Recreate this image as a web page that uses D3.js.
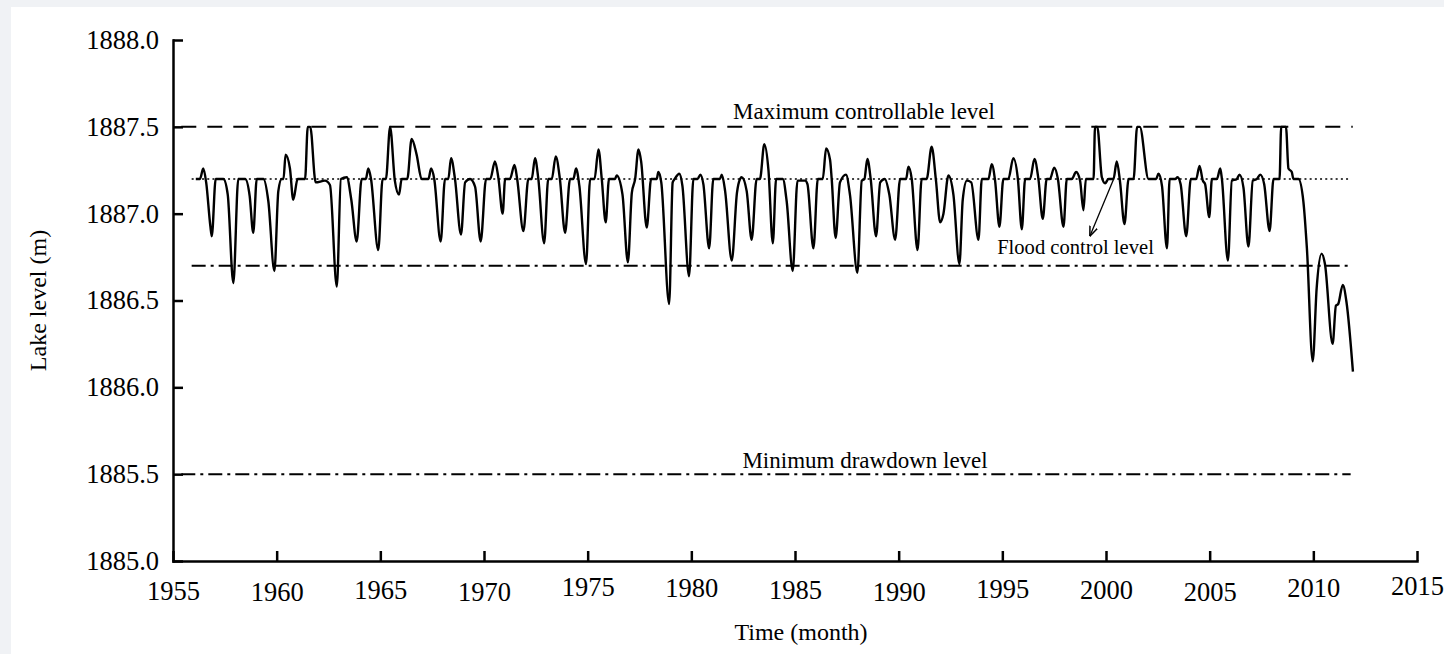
<!DOCTYPE html>
<html>
<head>
<meta charset="utf-8">
<title>Lake level</title>
<style>
body { margin: 0; background: #f0f2f5; }
svg { display: block; }
text { font-family: "Liberation Serif", "Times New Roman", serif; fill: #000; }
.axis path, .axis line { stroke: #000; stroke-width: 2.5px; }
.axis text { font-size: 26.5px; }
.series { fill: none; stroke: #000; stroke-width: 2.4px; stroke-linejoin: round; }
.ref { fill: none; stroke: #000; }
</style>
<script src="https://cdn.jsdelivr.net/npm/d3@7/dist/d3.min.js"></script>
</head>
<body>
<svg width="1444" height="654"></svg>
<script>
// time in decimal years, lake level in m
var timeYears = [
  1956.10, 1956.30, 1956.46, 1956.60, 1956.80, 1956.87, 1957.06, 1957.43, 1957.64, 1957.91,
  1958.15, 1958.48, 1958.70, 1958.87, 1959.04, 1959.36, 1959.60, 1959.89, 1960.08, 1960.24,
  1960.33, 1960.43, 1960.64, 1960.80, 1961.01, 1961.37, 1961.50, 1961.62, 1961.88, 1962.33,
  1962.57, 1962.90, 1963.10, 1963.38, 1963.60, 1963.86, 1964.10, 1964.30, 1964.42, 1964.55,
  1964.90, 1965.11, 1965.27, 1965.47, 1965.70, 1965.90, 1966.03, 1966.30, 1966.51, 1966.75,
  1966.99, 1967.32, 1967.45, 1967.60, 1967.91, 1968.12, 1968.28, 1968.41, 1968.60, 1968.89,
  1969.09, 1969.33, 1969.57, 1969.84, 1970.10, 1970.30, 1970.53, 1970.70, 1970.90, 1971.02,
  1971.25, 1971.47, 1971.60, 1971.90, 1972.14, 1972.30, 1972.46, 1972.62, 1972.90, 1973.10,
  1973.27, 1973.46, 1973.66, 1973.91, 1974.15, 1974.31, 1974.44, 1974.60, 1974.92, 1975.12,
  1975.33, 1975.52, 1975.68, 1975.87, 1976.03, 1976.32, 1976.40, 1976.68, 1976.94, 1977.13,
  1977.29, 1977.45, 1977.58, 1977.85, 1978.06, 1978.33, 1978.41, 1978.55, 1978.93, 1979.10,
  1979.20, 1979.42, 1979.57, 1979.89, 1980.10, 1980.30, 1980.44, 1980.58, 1980.86, 1981.06,
  1981.38, 1981.47, 1981.63, 1981.95, 1982.20, 1982.35, 1982.43, 1982.67, 1982.91, 1983.15,
  1983.31, 1983.52, 1983.72, 1983.93, 1984.09, 1984.41, 1984.60, 1984.89, 1985.12, 1985.49,
  1985.60, 1985.89, 1986.10, 1986.34, 1986.50, 1986.69, 1986.77, 1986.96, 1987.17, 1987.46,
  1987.65, 1988.01, 1988.22, 1988.35, 1988.49, 1988.65, 1988.91, 1989.11, 1989.33, 1989.55,
  1989.83, 1990.07, 1990.36, 1990.47, 1990.63, 1990.91, 1991.11, 1991.35, 1991.59, 1991.80,
  1992.00, 1992.16, 1992.40, 1992.64, 1992.93, 1993.09, 1993.29, 1993.50, 1993.85, 1994.01,
  1994.33, 1994.49, 1994.65, 1994.86, 1995.05, 1995.29, 1995.53, 1995.75, 1995.94, 1996.10,
  1996.34, 1996.55, 1996.74, 1996.95, 1997.14, 1997.30, 1997.50, 1997.68, 1997.95, 1998.11,
  1998.35, 1998.56, 1998.75, 1998.91, 1999.03, 1999.40, 1999.47, 1999.58, 1999.80, 1999.96,
  2000.12, 2000.36, 2000.52, 2000.68, 2000.89, 2001.09, 2001.33, 2001.50, 2001.63, 2002.05,
  2002.42, 2002.53, 2002.70, 2002.94, 2003.07, 2003.35, 2003.45, 2003.60, 2003.87, 2004.09,
  2004.35, 2004.51, 2004.67, 2004.78, 2004.98, 2005.11, 2005.35, 2005.51, 2005.59, 2005.88,
  2006.07, 2006.31, 2006.44, 2006.63, 2006.87, 2007.08, 2007.28, 2007.44, 2007.63, 2007.89,
  2008.08, 2008.37, 2008.45, 2008.68, 2008.80, 2008.96, 2009.04, 2009.28, 2009.52, 2009.69,
  2009.97, 2010.16, 2010.40, 2010.56, 2010.93, 2011.09, 2011.20, 2011.42, 2011.60, 2011.91
];
var lakeLevel = [
  1887.20, 1887.20, 1887.26, 1887.18, 1886.93, 1886.87, 1887.20, 1887.20, 1887.11, 1886.60,
  1887.20, 1887.20, 1887.10, 1886.89, 1887.20, 1887.20, 1887.07, 1886.67, 1887.13, 1887.20,
  1887.20, 1887.34, 1887.26, 1887.08, 1887.20, 1887.20, 1887.50, 1887.50, 1887.18, 1887.19,
  1887.165, 1886.58, 1887.20, 1887.21, 1887.08, 1886.84, 1887.20, 1887.20, 1887.26, 1887.20,
  1886.79, 1887.20, 1887.20, 1887.50, 1887.19, 1887.11, 1887.20, 1887.20, 1887.43, 1887.34,
  1887.20, 1887.20, 1887.26, 1887.20, 1886.84, 1887.20, 1887.20, 1887.32, 1887.20, 1886.88,
  1887.18, 1887.20, 1887.155, 1886.84, 1887.20, 1887.20, 1887.30, 1887.20, 1887.00, 1887.20,
  1887.20, 1887.28, 1887.20, 1886.90, 1887.20, 1887.20, 1887.32, 1887.20, 1886.83, 1887.20,
  1887.20, 1887.33, 1887.20, 1886.89, 1887.20, 1887.20, 1887.26, 1887.16, 1886.71, 1887.20,
  1887.20, 1887.37, 1887.20, 1886.95, 1887.20, 1887.20, 1887.22, 1887.11, 1886.72, 1887.12,
  1887.20, 1887.37, 1887.30, 1886.92, 1887.20, 1887.20, 1887.24, 1887.18, 1886.48, 1887.18,
  1887.20, 1887.23, 1887.16, 1886.64, 1887.20, 1887.20, 1887.225, 1887.17, 1886.80, 1887.20,
  1887.20, 1887.225, 1887.13, 1886.73, 1887.12, 1887.20, 1887.21, 1887.13, 1886.85, 1887.20,
  1887.20, 1887.40, 1887.25, 1886.83, 1887.20, 1887.20, 1887.07, 1886.67, 1887.19, 1887.19,
  1887.17, 1886.80, 1887.20, 1887.20, 1887.375, 1887.31, 1887.20, 1886.86, 1887.18, 1887.225,
  1887.11, 1886.66, 1887.19, 1887.20, 1887.315, 1887.20, 1886.87, 1887.18, 1887.20, 1887.11,
  1886.85, 1887.20, 1887.20, 1887.27, 1887.20, 1886.79, 1887.20, 1887.20, 1887.385, 1887.19,
  1886.95, 1887.00, 1887.22, 1887.11, 1886.71, 1887.08, 1887.19, 1887.18, 1886.85, 1887.20,
  1887.20, 1887.285, 1887.19, 1886.925, 1887.20, 1887.20, 1887.32, 1887.20, 1886.91, 1887.20,
  1887.20, 1887.315, 1887.20, 1886.97, 1887.20, 1887.20, 1887.265, 1887.20, 1886.925, 1887.20,
  1887.20, 1887.24, 1887.19, 1887.02, 1887.20, 1887.20, 1887.50, 1887.50, 1887.21, 1887.175,
  1887.20, 1887.20, 1887.30, 1887.18, 1886.94, 1887.20, 1887.20, 1887.50, 1887.50, 1887.20,
  1887.20, 1887.23, 1887.16, 1886.80, 1887.20, 1887.20, 1887.21, 1887.17, 1886.87, 1887.20,
  1887.20, 1887.275, 1887.19, 1887.17, 1886.98, 1887.20, 1887.20, 1887.26, 1887.20, 1886.73,
  1887.19, 1887.20, 1887.225, 1887.15, 1886.81, 1887.19, 1887.20, 1887.225, 1887.17, 1886.90,
  1887.20, 1887.20, 1887.50, 1887.50, 1887.26, 1887.24, 1887.20, 1887.20, 1887.07, 1886.80,
  1886.15, 1886.57, 1886.77, 1886.71, 1886.25, 1886.47, 1886.48, 1886.59, 1886.49, 1886.09
];

// characteristic levels
var refNames  = ["Maximum controllable level", "Flood control level", "", "Minimum drawdown level"];
var refLevels = [1887.5, 1887.2, 1886.7, 1885.5];
var refStart  = [1955.4, 1955.9, 1955.9, 1955.4];
var refEnd    = [2011.9, 2011.8, 2011.8, 2011.8];
var refDash   = ["15,11", "2,3.2", "14,5,3,5", "14,5,3,5"];

var xTicks = d3.range(1955, 2016, 5);
var yTicks = d3.range(1885, 1888.01, 0.5);
// the x tick labels in the original sit at slightly uneven heights
var xTickShift = [1, 2.5, 0, 2, -3, -1.5, 0, 2, -1, 0, 2, -2, -4];

var svg = d3.select("svg");
svg.append("rect").attr("x", 11).attr("y", 7).attr("width", 1433).attr("height", 647).attr("fill", "#fff");

var x = d3.scaleLinear().domain([1955, 2015]).range([173, 1417]),
    y = d3.scaleLinear().domain([1885, 1888]).range([561, 40]);

var xAxis = svg.append("g")
    .attr("class", "axis")
    .attr("transform", "translate(0," + y(1885) + ")")
    .call(d3.axisBottom(x).tickValues(xTicks).tickSize(-10).tickSizeOuter(0).tickPadding(19).tickFormat(d3.format("d")));
xAxis.selectAll(".tick text")
    .attr("y", function(d, i) { return 19 + xTickShift[i]; });

svg.append("g")
    .attr("class", "axis")
    .attr("transform", "translate(" + x(1955) + ",0)")
    .call(d3.axisLeft(y).tickValues(yTicks).tickSize(-10).tickSizeOuter(0).tickPadding(14).tickFormat(d3.format(".1f")));

svg.selectAll(".axis .domain").attr("stroke-linecap", "square");

svg.append("text")
    .attr("transform", "translate(46," + y(1886.5) + ") rotate(-90)")
    .attr("text-anchor", "middle")
    .style("font-size", "24px")
    .text("Lake level (m)");

svg.append("text")
    .attr("x", (x(1955) + x(2015)) / 2 + 6)
    .attr("y", 640)
    .attr("text-anchor", "middle")
    .style("font-size", "24px")
    .text("Time (month)");

// reference lines
svg.selectAll(".ref")
    .data(refLevels)
  .enter().append("line")
    .attr("class", "ref")
    .attr("x1", function(d, i) { return x(refStart[i]); })
    .attr("x2", function(d, i) { return x(refEnd[i]); })
    .attr("y1", function(d) { return y(d); })
    .attr("y2", function(d) { return y(d); })
    .attr("stroke-width", function(d, i) { return i == 1 ? 1.6 : 2; })
    .attr("stroke-dasharray", function(d, i) { return refDash[i]; });

var line = d3.line()
    .curve(d3.curveMonotoneX)
    .x(function(d) { return x(d[0]); })
    .y(function(d) { return y(d[1]); });

svg.append("path")
    .datum(d3.zip(timeYears, lakeLevel))
    .attr("class", "series")
    .attr("d", line);

// labels
svg.append("text")
    .attr("x", x(1988.33)).attr("y", y(1887.545))
    .attr("text-anchor", "middle")
    .style("font-size", "23px")
    .text(refNames[0]);

svg.append("text")
    .attr("x", x(1994.75)).attr("y", y(1886.77))
    .style("font-size", "20.6px")
    .text(refNames[1]);

svg.append("text")
    .attr("x", x(1988.38)).attr("y", y(1885.535))
    .attr("text-anchor", "middle")
    .style("font-size", "23px")
    .text(refNames[3]);

// arrow pointing from the flood control line to its label
svg.append("defs").append("marker")
    .attr("id", "head")
    .attr("viewBox", "0 0 10 10")
    .attr("refX", 10).attr("refY", 5)
    .attr("markerWidth", 10).attr("markerHeight", 10)
    .attr("markerUnits", "userSpaceOnUse")
    .attr("orient", "auto")
  .append("path")
    .attr("d", "M0,1 L10,5 L0,9")
    .attr("fill", "none")
    .attr("stroke", "#000")
    .attr("stroke-width", 1.5);

svg.append("line")
    .attr("x1", x(2000.37)).attr("y1", y(1887.2))
    .attr("x2", x(1999.22)).attr("y2", y(1886.87))
    .attr("stroke", "#000")
    .attr("stroke-width", 1.3)
    .attr("marker-end", "url(#head)");
</script>
</body>
</html>
